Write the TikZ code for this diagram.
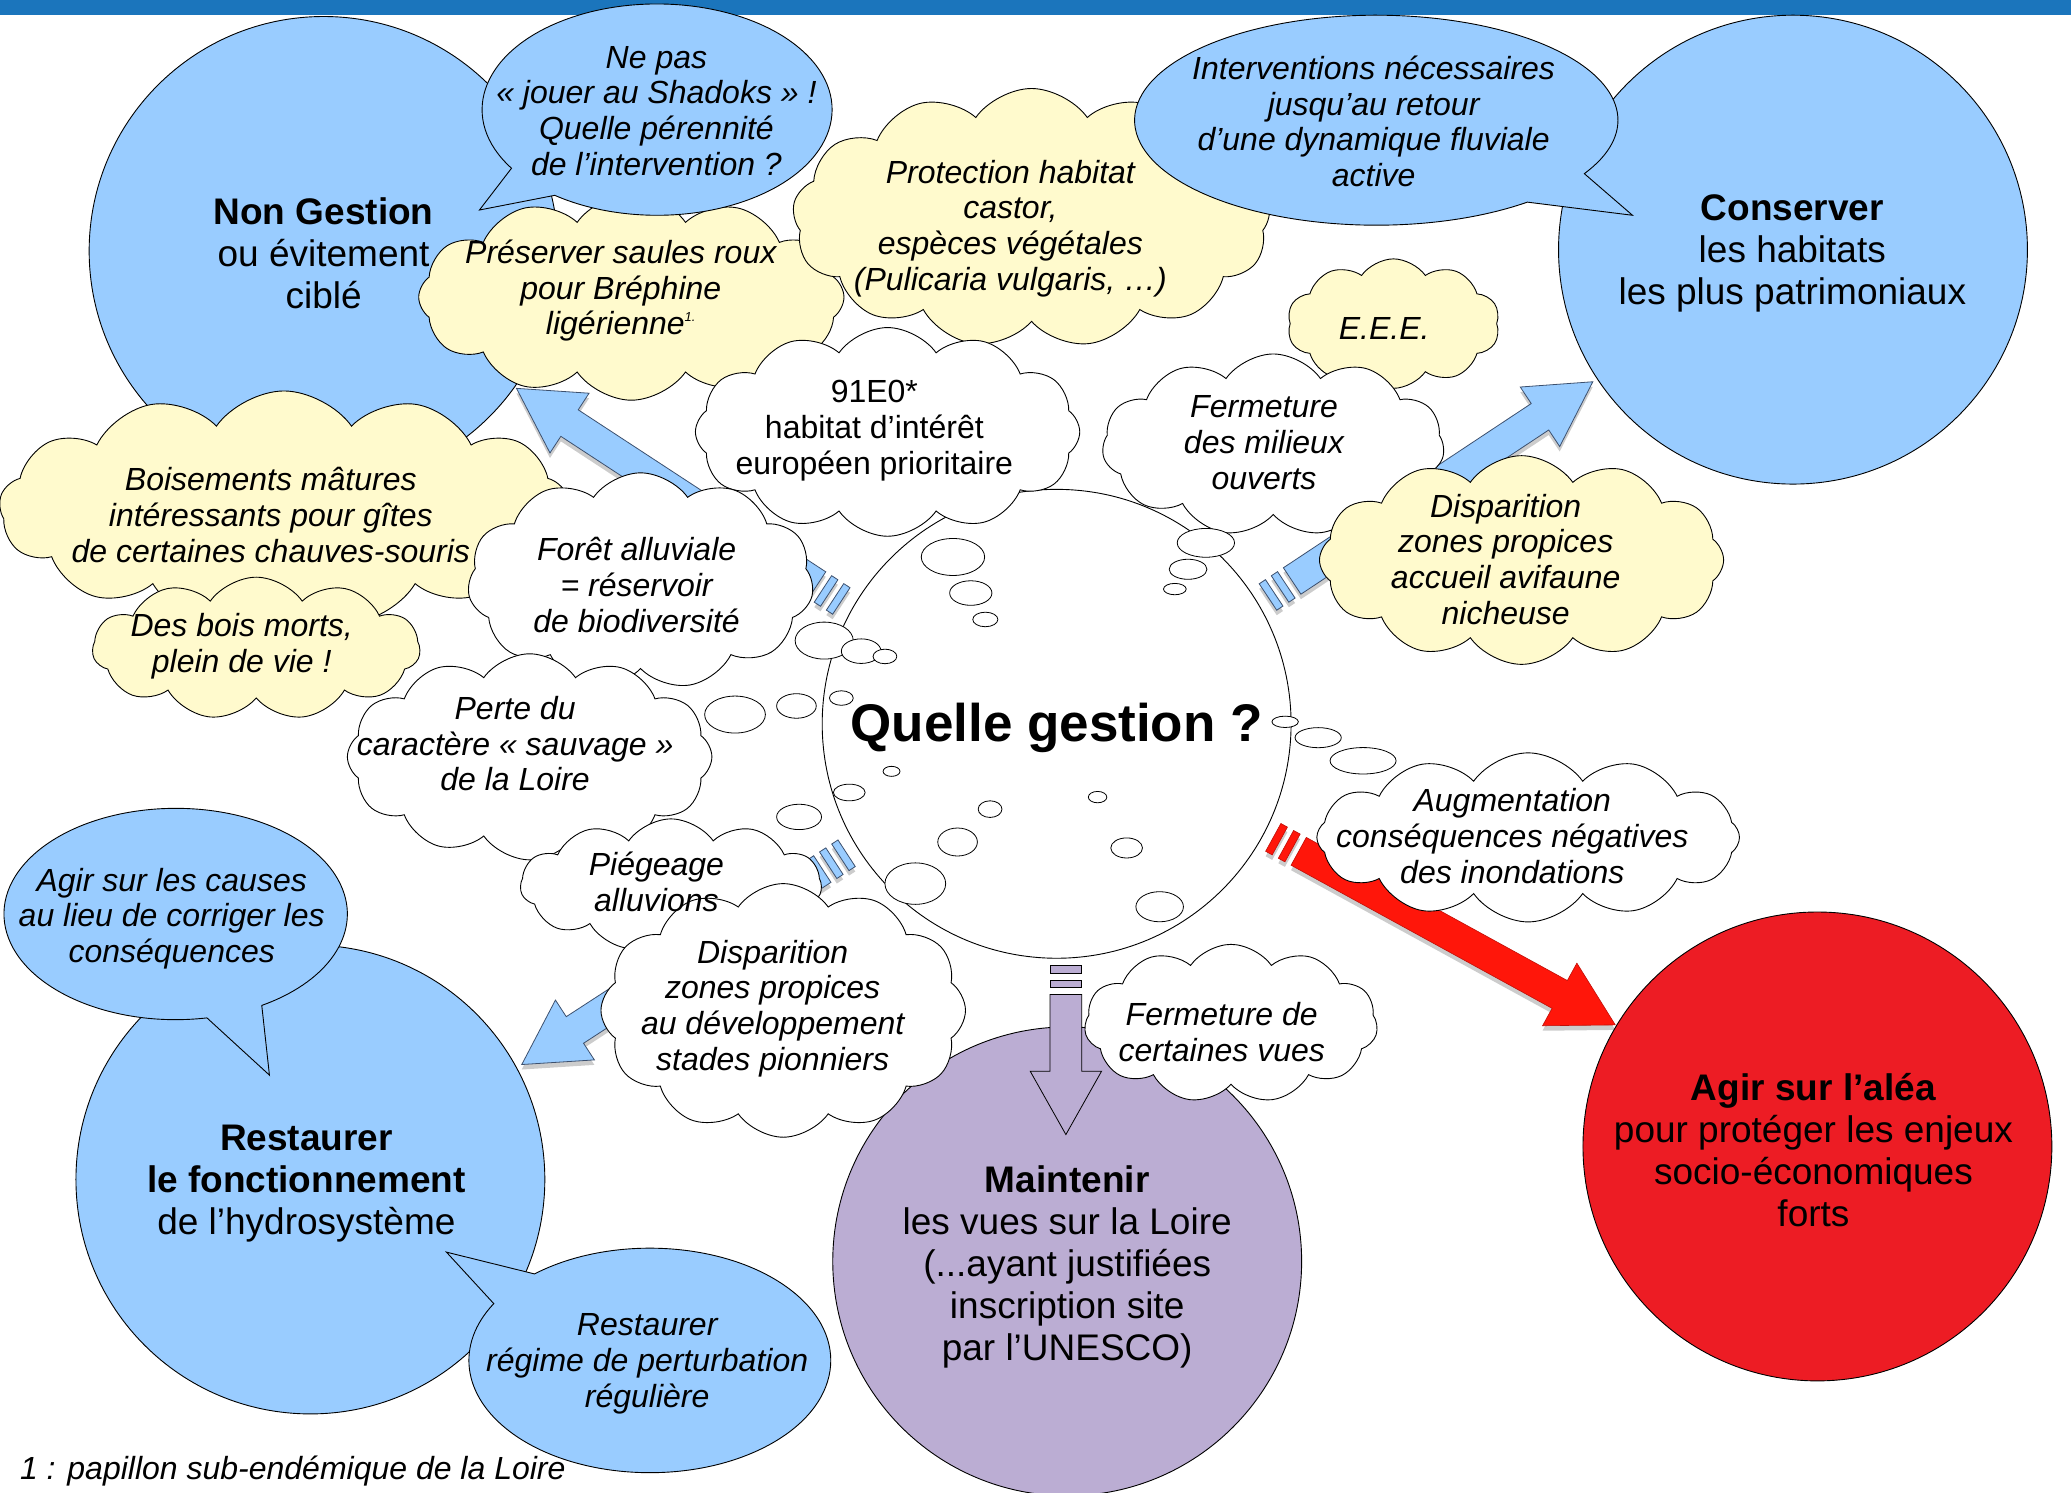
\documentclass[tikz,border=0pt]{standalone}
\usepackage{fontspec}
\setmainfont{Liberation Sans}
\usetikzlibrary{shapes.symbols,calc}
\definecolor{cblue}{RGB}{153,204,255}
\definecolor{cyel}{RGB}{255,250,205}
\definecolor{cpurp}{RGB}{187,173,211}
\definecolor{cred}{RGB}{237,28,36}
\definecolor{ared}{RGB}{255,22,10}
\definecolor{banner}{RGB}{27,117,188}
\definecolor{aedge}{RGB}{60,80,110}
\newcommand\ks{1.3208}
\tikzset{
 outl/.style={draw=black, line width=0.9pt},
 cloudy/.style={cloud, cloud ignores aspect, cloud puffs=#1, cloud puff arc=110, draw=black, line width=0.9pt, inner sep=0pt},
 cloudy/.default=10,
 ctext/.style={font=\fontsize{32}{35.7}\selectfont\itshape, align=center, inner sep=0pt},
 utext/.style={font=\fontsize{32}{35.7}\selectfont, align=center, inner sep=0pt},
 btext/.style={font=\fontsize{37}{42}\selectfont, align=center, inner sep=0pt},
 qtext/.style={font=\fontsize{53}{60}\selectfont\bfseries, inner sep=0pt},
 bubble/.style={fill=cblue, draw=black, line width=0.9pt},
 bigc/.style={circle, outl, inner sep=0pt, minimum size=355*\ks},
 smalle/.style={fill=white, draw=black, line width=0.8pt},
}
\newcommand\arrowbody[1]{%
 \path[#1] (0pt,-15.85pt) rectangle (7.5pt,15.85pt);
 \path[#1] (14.5pt,-15.85pt) rectangle (22pt,15.85pt);
 \path[#1] (29pt,-15.85pt) -- (\arrneck pt,-15.85pt) -- (\arrneck pt,-35.7pt) -- (\arrlen pt,0pt)
   -- (\arrneck pt,35.7pt) -- (\arrneck pt,15.85pt) -- (29pt,15.85pt) -- cycle;}
\newcommand\arrshadow{%
 \begin{scope}[yshift=-5pt,shift={(\arrtx,\arrty)},rotate=\arrang]
   \arrowbody{fill=black,opacity=.2}
 \end{scope}}
\newcommand\fatarrow[4]{%
 \path let \p1=($(#2)-(#1)$), \p2=(#1) in \pgfextra{%
   \pgfmathsetmacro\tmpa{atan2(\y1,\x1)}\xdef\arrang{\tmpa}%
   \pgfmathsetmacro\tmpb{veclen(\x1,\y1)}\xdef\arrlen{\tmpb}%
   \pgfmathsetmacro\tmpc{\tmpb-63.4}\xdef\arrneck{\tmpc}%
   \xdef\arrtx{\x2}\xdef\arrty{\y2}};
 #4
 \begin{scope}[shift={(\arrtx,\arrty)},rotate=\arrang]
   \arrowbody{#3}
 \end{scope}}
\begin{document}
\begin{tikzpicture}[x=1.3208pt,y=-1.3208pt]
\useasboundingbox (0,0) rectangle (1568,1130);
\fill[banner] (0,0) rectangle (1568,11.4);

% big circles
\node[bigc, fill=cblue] (nong) at (245,190) {};
\node[bigc, fill=cblue] (cons) at (1357.5,189) {};
\node[bigc, fill=cblue] (rest) at (235,893) {};
\node[bigc, fill=cpurp] (maint) at (808,955) {};
\node[bigc, fill=cred] (agir) at (1376,868) {};

% arrows
\coordinate (a1t) at (637,455); \coordinate (a1h) at (391,294);
\coordinate (a2t) at (960,452); \coordinate (a2h) at (1206,289);
\coordinate (a3t) at (641,646); \coordinate (a3h) at (395,806);
\coordinate (a4t) at (807,731); \coordinate (a4h) at (807,859);
\coordinate (a5t) at (964,634); \coordinate (a5h) at (1223,776);
\fatarrow{a1t}{a1h}{fill=cblue,draw=aedge,line width=.8pt}{\arrshadow}
\fatarrow{a2t}{a2h}{fill=cblue,draw=aedge,line width=.8pt}{\arrshadow}
\fatarrow{a3t}{a3h}{fill=cblue,draw=aedge,line width=.8pt}{\arrshadow}
\fatarrow{a4t}{a4h}{fill=cpurp,draw=black,line width=.8pt}{}
\fatarrow{a5t}{a5h}{fill=ared,draw=ared!75!black,line width=.6pt}{\arrshadow}

% central circle
\node[bigc, fill=white] (quest) at (800,548) {};

% clouds
\node[cloudy=13, fill=cyel, minimum width=431*\ks, minimum height=178*\ks] (ybois) at (215,385) {};
\node[cloudy=11, fill=cyel, minimum width=248*\ks, minimum height=108*\ks] (ymorts) at (194,491) {};
\node[cloudy=12, fill=cyel, minimum width=322*\ks, minimum height=156*\ks] (ypres) at (478,225) {};
\node[cloudy=13, fill=cyel, minimum width=362*\ks, minimum height=196*\ks] (yprot) at (781,165) {};
\node[cloudy=10, fill=cyel, minimum width=161*\ks, minimum height=98*\ks] (yeee) at (1055,245) {};
\node[cloudy=11, fill=white, minimum width=259*\ks, minimum height=138*\ks] (wferm) at (964,337) {};
\node[cloudy=12, fill=cyel, minimum width=306*\ks, minimum height=158*\ks] (yavi) at (1152,424) {};
\node[cloudy=12, fill=white, minimum width=291*\ks, minimum height=158*\ks] (w91) at (672,327) {};
\node[cloudy=11, fill=white, minimum width=262*\ks, minimum height=164*\ks] (wforet) at (485,440) {};
\node[cloudy=12, fill=white, minimum width=276*\ks, minimum height=156*\ks] (wperte) at (401,573) {};
\node[cloudy=11, fill=white, minimum width=228*\ks, minimum height=100*\ks] (wpieg) at (508,670) {};
\node[cloudy=12, fill=white, minimum width=276*\ks, minimum height=192*\ks] (wpion) at (593,765) {};
\node[cloudy=12, fill=white, minimum width=320*\ks, minimum height=128*\ks] (waugm) at (1157,634) {};
\node[cloudy=11, fill=white, minimum width=222*\ks, minimum height=120*\ks] (wvues) at (932,775) {};

% speech bubbles
\path[bubble] ($(497.5,83)+(146.3:132.5 and 80)$) arc[start angle=146.3, end angle=485.8, x radius=132.5, y radius=80] -- (363,159) -- cycle;
\path[bubble] ($(1042,91)+(51.3:183 and 79.5)$) arc[start angle=51.3, end angle=390.6, x radius=183, y radius=79.5] -- (1236,163) -- cycle;
\path[bubble] ($(133,692)+(79.5:130 and 80)$) arc[start angle=79.5, end angle=419.9, x radius=130, y radius=80] -- (204,814) -- cycle;
\path[bubble] ($(492,1030)+(230.4:137 and 85)$) arc[start angle=230.4, end angle=570.4, x radius=137, y radius=85] -- (338,948) -- cycle;

% small thought ellipses
\foreach \cx/\cy/\rx/\ry in {721.5/421.7/24/14, 735/449/16/9.3, 746/469/9.5/5.5,
  624/485/22/14, 652/493/15/9.3, 670/497/9/5.5,
  556.5/541/23/14, 603/534.5/15/9.3, 637/528.5/9/5.5,
  675/584/6.4/3.8, 643/600/12/6.3, 605/618.5/17/9.6,
  693/669/23/15.7, 725/637.5/15/10.6, 749.6/612.6/9/6.3,
  831/603.5/7/4.3, 853/642/12/7.6, 878/686.5/18/11.4,
  913/411/21.7/10.9, 899.5/431/14.3/7.6, 889.5/446/8.6/4.3,
  973/546.5/10/4.3, 998/558.5/17.5/7.6, 1032/576/25/10}
  \path[smalle] (\cx,\cy) ellipse[x radius=\rx, y radius=\ry];

% texts
\node[btext] (tnong) at (245,192) {\textbf{Non Gestion}\\ou évitement\\ciblé};
\node[btext] (tcons) at (1357,192) {\textbf{Conserver}\\les habitats\\les plus patrimoniaux};
\node[btext] (tagir) at (1373,871) {\textbf{Agir sur l’aléa}\\pour protéger les enjeux\\socio-économiques\\forts};
\node[btext] (tmaint) at (808,959) {\textbf{Maintenir}\\les vues sur la Loire\\(...ayant justifiées\\inscription site\\par l’UNESCO)};
\node[btext] (trest) at (232,896) {\textbf{Restaurer}\\\textbf{le fonctionnement}\\de l’hydrosystème};
\node[qtext] (tq) at (800,551) {Quelle gestion ?};
\node[ctext] (tshad) at (497,84) {Ne pas\\« jouer au Shadoks » !\\Quelle pérennité\\de l’intervention ?};
\node[ctext] (tint) at (1040,92) {Interventions nécessaires\\jusqu’au retour\\d’une dynamique fluviale\\active};
\node[ctext] (tcauses) at (130,695.5) {Agir sur les causes\\au lieu de corriger les\\conséquences};
\node[ctext] (tregime) at (490,1032.5) {Restaurer\\régime de perturbation\\régulière};
\node[ctext] (tpres) at (470,220) {Préserver saules roux\\pour Bréphine\\ligérienne{\fontsize{13}{13}\selectfont\raisebox{13pt}{1.}}};
\node[ctext] (tprot) at (765,173) {Protection habitat\\castor,\\espèces végétales\\(Pulicaria vulgaris, …)};
\node[ctext] (teee) at (1048,249) {E.E.E.};
\node[ctext] (tbois) at (205,390) {Boisements mâtures\\intéressants pour gîtes\\de certaines chauves-souris};
\node[ctext] (tmorts) at (183,489.5) {Des bois morts,\\plein de vie !};
\node[ctext] (tavi) at (1140,423.5) {Disparition\\zones propices\\accueil avifaune\\nicheuse};
\node[utext] (t91) at (662,326) {91E0*\\habitat d’intérêt\\européen prioritaire};
\node[ctext] (tforet) at (482,443) {Forêt alluviale\\= réservoir\\de biodiversité};
\node[ctext] (tferm) at (957,335) {Fermeture\\des milieux\\ouverts};
\node[ctext] (tperte) at (390,563) {Perte du\\caractère « sauvage »\\de la Loire};
\node[ctext] (tpieg) at (497,667.5) {Piégeage\\alluvions};
\node[ctext] (tpion) at (585,763.5) {Disparition\\zones propices\\au développement\\stades pionniers};
\node[ctext] (taugm) at (1145,633) {Augmentation\\conséquences négatives\\des inondations};
\node[ctext] (tvues) at (925,781.5) {Fermeture de\\certaines vues};
\node[ctext, anchor=west] (tfoot) at (15,1114) {1 : papillon sub-endémique de la Loire};
\end{tikzpicture}
\end{document}
